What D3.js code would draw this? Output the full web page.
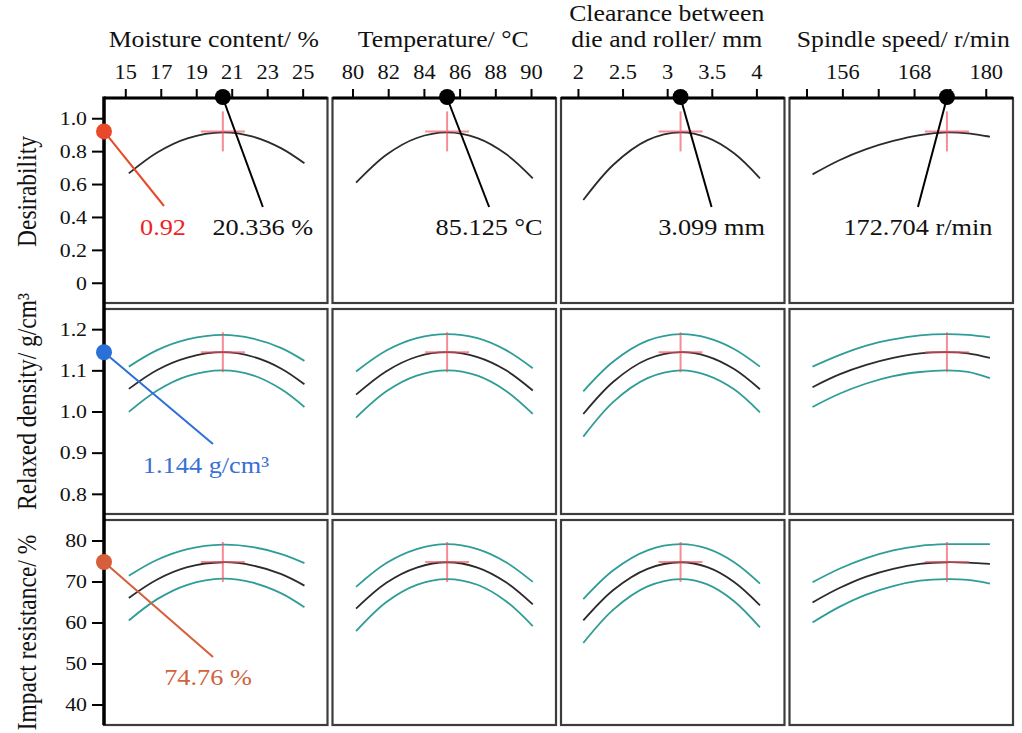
<!DOCTYPE html>
<html>
<head>
<meta charset="utf-8">
<script src="https://cdn.jsdelivr.net/npm/d3@7"></script>
<style>
  body { margin: 0; background: #fff; }
  svg { display: block; }
</style>
</head>
<body>
<svg id="chart"></svg>
<script>
// ---- factors (columns) ----
const factorTitles = [["Moisture content/ %"], ["Temperature/ °C"], ["Clearance between", "die and roller/ mm"], ["Spindle speed/ r/min"]];
const factorTicks = [[15, 17, 19, 21, 23, 25], [80, 82, 84, 86, 88, 90], [2, 2.5, 3, 3.5, 4], [150, 156, 162, 168, 174, 180]];
const factorTickLabels = [["15", "17", "19", "21", "23", "25"], ["80", "82", "84", "86", "88", "90"], ["2", "2.5", "3", "3.5", "4"], ["", "156", "", "168", "", "180"]];
const factorDomains = [[13.8, 26.4], [78.88, 91.4], [1.81, 4.315], [147.15, 184.56]];
const factorPoints = [
  [15.2, 16.8, 18.5, 20.5, 22.2, 23.8, 25.1],
  [80.2, 81.9, 83.6, 85.3, 87.0, 88.6, 90.1],
  [2.06, 2.40, 2.78, 3.15, 3.45, 3.75, 4.04],
  [151, 155.5, 160, 164.5, 169, 173.5, 177, 180.7]
];
const settingPositions = [20.5, 85.3, 3.15, 173.5];
const settingLabels = ["20.336 %", "85.125 °C", "3.099 mm", "172.704 r/min"];

// ---- responses (rows) ----
const responseTitles = ["Desirability", "Relaxed density/ g/cm³", "Impact resistance/ %"];
const responseTicks = [[0, 0.2, 0.4, 0.6, 0.8, 1.0], [0.8, 0.9, 1.0, 1.1, 1.2], [40, 50, 60, 70, 80]];
const responseTickLabels = [["0", "0.2", "0.4", "0.6", "0.8", "1.0"], ["0.8", "0.9", "1.0", "1.1", "1.2"], ["40", "50", "60", "70", "80"]];
const responseDomains = [[-0.123, 1.123], [0.751, 1.249], [35, 85]];
const responseOptimum = [0.92, 1.144, 74.76];
const responseLabels = ["0.92", "1.144 g/cm³", "74.76 %"];

// ---- fitted curves, one array per factor ----
const desirability = [
  [0.665, 0.792, 0.878, 0.914, 0.888, 0.817, 0.726],
  [0.608, 0.778, 0.880, 0.914, 0.879, 0.782, 0.635],
  [0.503, 0.719, 0.867, 0.914, 0.882, 0.787, 0.635],
  [0.659, 0.745, 0.812, 0.862, 0.898, 0.914, 0.908, 0.888]
];
const densityFit = [
  [1.055, 1.101, 1.131, 1.144, 1.133, 1.104, 1.066],
  [1.041, 1.098, 1.133, 1.144, 1.132, 1.100, 1.051],
  [0.994, 1.073, 1.127, 1.144, 1.134, 1.103, 1.054],
  [1.059, 1.090, 1.113, 1.130, 1.141, 1.144, 1.141, 1.130]
];
const densityUpper = [
  [1.109, 1.149, 1.175, 1.186, 1.177, 1.154, 1.123],
  [1.097, 1.148, 1.178, 1.188, 1.178, 1.149, 1.105],
  [1.049, 1.122, 1.172, 1.188, 1.179, 1.152, 1.109],
  [1.109, 1.137, 1.160, 1.175, 1.185, 1.188, 1.186, 1.180]
];
const densityLower = [
  [0.999, 1.051, 1.086, 1.100, 1.088, 1.054, 1.011],
  [0.985, 1.049, 1.087, 1.100, 1.087, 1.050, 0.994],
  [0.939, 1.024, 1.081, 1.100, 1.088, 1.054, 0.998],
  [1.011, 1.043, 1.068, 1.086, 1.096, 1.100, 1.096, 1.081]
];
const impactFit = [
  [66.0, 70.5, 73.5, 74.7, 73.9, 71.8, 69.0],
  [63.4, 69.7, 73.4, 74.7, 73.4, 69.8, 64.4],
  [60.5, 68.0, 73.1, 74.7, 73.5, 69.9, 64.2],
  [64.9, 68.4, 71.2, 73.1, 74.3, 74.7, 74.6, 74.3]
];
const impactUpper = [
  [71.4, 75.3, 77.9, 79.0, 78.4, 76.7, 74.5],
  [68.7, 74.5, 77.9, 79.1, 77.9, 74.7, 69.9],
  [65.7, 72.8, 77.6, 79.1, 78.0, 74.7, 69.5],
  [69.8, 73.1, 75.7, 77.6, 78.7, 79.1, 79.1, 79.1]
];
const impactLower = [
  [60.5, 65.7, 69.2, 70.7, 69.7, 67.1, 63.7],
  [57.9, 65.0, 69.2, 70.6, 69.2, 65.2, 59.1],
  [55.0, 63.2, 68.8, 70.6, 69.3, 65.2, 58.8],
  [60.0, 63.8, 66.8, 68.9, 70.2, 70.6, 70.4, 69.5]
];

// ---- layout ----
const width = 1022, height = 733;
const SX = 1.12; // the source image is slightly stretched horizontally
const FONT = '"Liberation Serif", "Times New Roman", serif';
const BLACK = "#2b2b2b", TEAL = "#2f9d97", CROSS = "#f0505f";
const rowColors = [
  { dot: "#e8492a", text: "#ee1f25" },
  { dot: "#2b6fd9", text: "#3a6fd6" },
  { dot: "#d45f3a", text: "#d0623e" }
];

const colW = 223.5, rowH = 205;
const colX = d3.range(4).map(i => 104 + i * 228.5);
const rowY = d3.range(3).map(i => 98 + i * 211);

const svg = d3.select("#chart").attr("width", width).attr("height", height)
  .style("font-family", FONT);

const xScales = factorDomains.map((dom, c) =>
  d3.scaleLinear().domain(dom).range([colX[c], colX[c] + colW]));
const yScales = responseDomains.map((dom, r) =>
  d3.scaleLinear().domain(dom).range([rowY[r] + rowH, rowY[r]]));

const rowSeries = [
  [{ values: desirability, color: BLACK }],
  [{ values: densityUpper, color: TEAL }, { values: densityLower, color: TEAL }, { values: densityFit, color: BLACK }],
  [{ values: impactUpper, color: TEAL }, { values: impactLower, color: TEAL }, { values: impactFit, color: BLACK }]
];

function stretchedText(g, x, y, str) {
  return g.append("text")
    .attr("transform", `translate(${x},${y}) scale(${SX},1)`)
    .text(str);
}

// Panels and curves
for (let r = 0; r < 3; r++) {
  for (let c = 0; c < 4; c++) {
    const x = xScales[c], y = yScales[r];
    svg.append("rect")
      .attr("x", colX[c]).attr("y", rowY[r])
      .attr("width", colW).attr("height", rowH)
      .attr("fill", "#fff")
      .attr("stroke", "#3c3c3c")
      .attr("stroke-width", 2.2);

    const line = d3.line()
      .x((d, i) => x(factorPoints[c][i]))
      .y(d => y(d))
      .curve(d3.curveCatmullRom.alpha(0.5));

    rowSeries[r].forEach(s => {
      svg.append("path")
        .attr("d", line(s.values[c]))
        .attr("fill", "none")
        .attr("stroke", s.color)
        .attr("stroke-width", 1.8);
    });

    // optimum crosshair
    const cx = x(settingPositions[c]), cy = y(responseOptimum[r]);
    const cross = svg.append("g").attr("stroke", CROSS).attr("stroke-width", 2).attr("opacity", 0.65);
    cross.append("line").attr("x1", cx).attr("x2", cx).attr("y1", cy - 20).attr("y2", cy + 20);
    cross.append("line").attr("x1", cx - 22).attr("x2", cx + 22).attr("y1", cy).attr("y2", cy);
  }
}

// Top axes (factors)
for (let c = 0; c < 4; c++) {
  const g = svg.append("g")
    .attr("transform", `translate(0,${rowY[0]})`)
    .call(d3.axisTop(xScales[c])
      .tickValues(factorTicks[c])
      .tickFormat((d, i) => factorTickLabels[c][i])
      .tickSize(9)
      .tickPadding(10))
    .attr("font-family", null)
    .attr("font-size", null);
  g.select(".domain").remove();
  g.selectAll(".tick line").attr("stroke", "#000").attr("stroke-width", 2);
  g.selectAll(".tick text")
    .attr("fill", "#111")
    .attr("font-size", 20)
    .attr("transform", `scale(${SX},1)`);

  svg.append("line")
    .attr("x1", colX[c]).attr("x2", colX[c] + colW)
    .attr("y1", rowY[0]).attr("y2", rowY[0])
    .attr("stroke", "#000").attr("stroke-width", 3.2);

  const titleDx = [-2, -1, -6, 2][c];
  const lines = factorTitles[c];
  lines.forEach((t, i) => {
    const baseY = lines.length === 1 ? 47 : 21 + i * 26;
    stretchedText(svg, colX[c] + colW / 2 + titleDx, baseY, t)
      .attr("text-anchor", "middle")
      .attr("font-size", 23)
      .attr("fill", "#111");
  });
}

// Left axes (responses)
for (let r = 0; r < 3; r++) {
  const g = svg.append("g")
    .attr("transform", `translate(${colX[0]},0)`)
    .call(d3.axisLeft(yScales[r])
      .tickValues(responseTicks[r])
      .tickFormat((d, i) => responseTickLabels[r][i])
      .tickSize(12))
    .attr("font-family", null)
    .attr("font-size", null);
  g.select(".domain").remove();
  g.selectAll(".tick line").attr("stroke", "#000").attr("stroke-width", 2);
  g.selectAll(".tick text")
    .attr("fill", "#111")
    .attr("font-size", 19.5)
    .attr("x", -17 / SX)
    .attr("transform", `scale(${SX},1)`);

  const shift = [-9, -10, 10][r];
  svg.append("text")
    .attr("transform", `translate(36,${rowY[r] + rowH / 2 + shift}) scale(${SX},1) rotate(-90)`)
    .attr("text-anchor", "middle")
    .attr("font-size", 23.5)
    .attr("fill", "#111")
    .text(responseTitles[r]);
}

svg.append("line")
  .attr("x1", colX[0]).attr("x2", colX[0])
  .attr("y1", rowY[0] - 1.5).attr("y2", rowY[2] + rowH)
  .attr("stroke", "#000").attr("stroke-width", 3.5);

// Factor settings: dots on the top axis with leader lines
const topLead = [40, 42, 31, -29];
for (let c = 0; c < 4; c++) {
  const dx = xScales[c](settingPositions[c]);
  const ex = dx + topLead[c], ey = 207;
  svg.append("line")
    .attr("x1", dx).attr("y1", rowY[0])
    .attr("x2", ex).attr("y2", ey)
    .attr("stroke", "#000").attr("stroke-width", 2);
  svg.append("circle")
    .attr("cx", dx).attr("cy", rowY[0] - 1)
    .attr("r", 8).attr("fill", "#000");
  stretchedText(svg, ex, 235, settingLabels[c])
    .attr("text-anchor", "middle")
    .attr("font-size", 23.5)
    .attr("fill", "#111");
}

// Response optimum: dots on the left axis with leader lines
const leftLead = [
  { ex: 164, ey: 206, tx: 163, ty: 235 },
  { ex: 213, ey: 444, tx: 206, ty: 473 },
  { ex: 213, ey: 657, tx: 208, ty: 685 }
];
for (let r = 0; r < 3; r++) {
  const dy = yScales[r](responseOptimum[r]);
  const a = leftLead[r];
  svg.append("line")
    .attr("x1", colX[0]).attr("y1", dy)
    .attr("x2", a.ex).attr("y2", a.ey)
    .attr("stroke", rowColors[r].dot).attr("stroke-width", 2);
  svg.append("circle")
    .attr("cx", colX[0]).attr("cy", dy)
    .attr("r", 8).attr("fill", rowColors[r].dot);
  stretchedText(svg, a.tx, a.ty, responseLabels[r])
    .attr("text-anchor", "middle")
    .attr("font-size", 23.5)
    .attr("fill", rowColors[r].text);
}
</script>
</body>
</html>
